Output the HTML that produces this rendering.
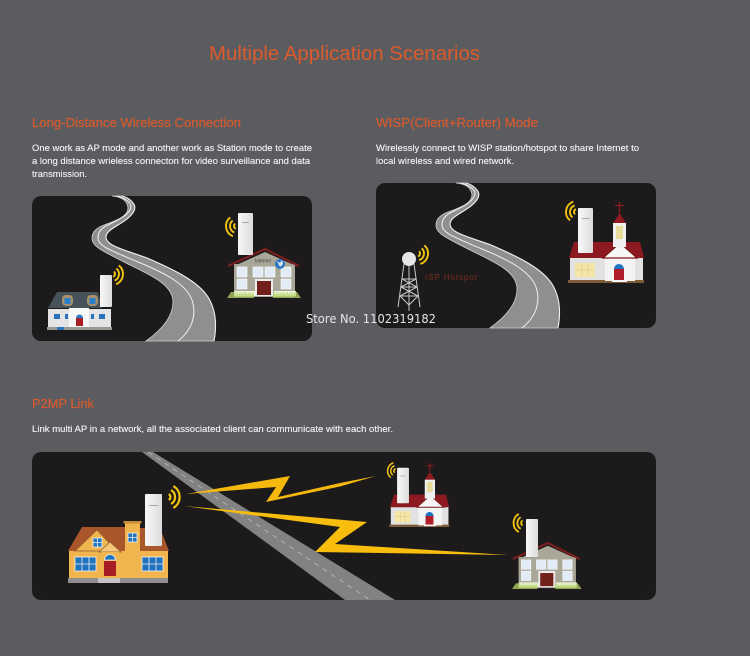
<!DOCTYPE html>
<html><head><meta charset="utf-8"><style>
html,body{margin:0;padding:0;background:#5b5c60;width:750px;height:656px;overflow:hidden}
svg{display:block}
text{font-family:"Liberation Sans",sans-serif}
.h{font-size:13px;fill:#d85a2e;stroke:#d85a2e;stroke-width:.2}
.b{font-size:9.6px;fill:#f4f4f4;stroke:#f4f4f4;stroke-width:.12}
</style></head><body>
<svg width="750" height="656" viewBox="0 0 750 656" xmlns="http://www.w3.org/2000/svg">
<defs>
<linearGradient id="ap" x1="0" x2="1" y1="0" y2="0"><stop offset="0" stop-color="#f8f8f8"/><stop offset="1" stop-color="#dcdcdc"/></linearGradient>
<g id="arcs" fill="none" stroke="#f2c40e" stroke-width="1.9">
<path d="M1.5,-2.6A3,3 0 0 1 1.5,2.6"/><path d="M3.5,-6.06A7,7 0 0 1 3.5,6.06"/><path d="M5.5,-9.53A11,11 0 0 1 5.5,9.53"/>
</g>
<g id="road">
<path d="M112,196C120,197 127,199 128,208C128,216 118,220 104,225C96,228 92,232 92,238C92,246 100,250 130,265C155,277 173,286 173,302C173,318 160,331 146,341L214,341C217,325 216,310 208,297C197,280 170,268 147,258C125,250 106,246 106,237C106,230 118,226 127,219C134,213 137,208 133,203C130,199 126,197 122,196Z" fill="#8f8f8f" stroke="#cfcfcf" stroke-width=".8"/>
<path d="M122,196C126,197 130,199 133,203C137,208 134,213 127,219C118,226 106,230 106,237C106,246 125,250 147,258C170,268 197,280 208,297C216,310 217,325 214,341" fill="none" stroke="#eee" stroke-width="1.1"/>
<path d="M117,196C124,198 130,201 131,206C131,214 120,219 108,225C101,228 98,232 98,238C98,246 110,250 138,262C165,273 186,284 192,300C197,315 192,330 178,341" fill="none" stroke="#f0f0f0" stroke-width="1"/>
</g>
<g id="church">
<path d="M574,242H640L644,258H569Z" fill="#8c1a20"/>
<rect x="570" y="258" width="73" height="23" fill="#e2e2e2"/>
<rect x="568" y="280" width="76" height="3" fill="#7d5a38"/>
<rect x="605" y="257" width="30" height="24" fill="#f4f4f4"/>
<path d="M620,243L603,258H637Z" fill="#f6f6f6" stroke="#7e1418" stroke-width="1.2"/>
<rect x="575" y="263" width="20" height="14" fill="#f4e6a6"/>
<path d="M582,263V277M588,263V277M575,270H595" stroke="#d8c888" stroke-width=".6"/>
<rect x="613" y="223" width="13" height="24" fill="#f0f0f0"/>
<path d="M619.5,213L613,223H626Z" fill="#8c1a20"/>
<rect x="616" y="226" width="7" height="13" fill="#e8dc9a"/>
<path d="M619.5,202V213M615,205.500H624" stroke="#8c1a20" stroke-width="1.3"/>
<path d="M614,269A5,5 0 0 1 624,269Z" fill="#1f75c2"/>
<rect x="614" y="269" width="10" height="11" fill="#b01c2a"/>
<rect x="612" y="280" width="15" height="2" fill="#f4f4f4"/>
<rect x="578" y="208" width="15" height="45" rx="1" fill="url(#ap)"/>
<rect x="582" y="218" width="7" height=".8" fill="#999"/>
<use href="#arcs" transform="translate(577,212) rotate(10) scale(-1,1)"/>
</g>
<g id="gray">
<rect x="234" y="264" width="61" height="33" fill="#a9a797"/>
<path d="M265,252L234,266H296Z" fill="#a9a797"/>
<path d="M228,266L265,249L299,266" fill="none" stroke="#7b1f1f" stroke-width="2.2"/>
<g fill="#e2ecf6" stroke="#f7f7f7" stroke-width=".7">
<rect x="237" y="267" width="10" height="10"/><rect x="253" y="267" width="10" height="10"/><rect x="265" y="267" width="10" height="10"/><rect x="281" y="267" width="10" height="10"/><rect x="237" y="279" width="10" height="10"/><rect x="281" y="279" width="10" height="10"/>
</g>
<rect x="255" y="279" width="18" height="17" fill="#eee"/>
<rect x="257" y="281" width="14" height="14" fill="#71201c"/>
<rect x="234" y="291" width="21" height="5" fill="#f4f4e4"/><rect x="274" y="291" width="22" height="5" fill="#f4f4e4"/>
<path d="M227,298L231,292H254V298ZM301,298L297,292H273V298Z" fill="#b5d66a" opacity=".75"/>
<path d="M236,293H254M275,293H295" stroke="#fff" stroke-width="1.5" stroke-dasharray="1 1.2"/>
</g>
</defs>

<rect width="750" height="656" fill="#5b5c60"/>

<text x="209" y="60" font-size="20.5" fill="#dc5a2c" textLength="271" lengthAdjust="spacingAndGlyphs">Multiple Application Scenarios</text>

<text class="h" x="32" y="127" textLength="209" lengthAdjust="spacingAndGlyphs">Long-Distance Wireless Connection</text>
<text class="b" x="32" y="151" textLength="280" lengthAdjust="spacingAndGlyphs">One work as AP mode and another work as Station mode to create</text>
<text class="b" x="32" y="164" textLength="278" lengthAdjust="spacingAndGlyphs">a long distance wrieless connecton for video surveillance and data</text>
<text class="b" x="32" y="177" textLength="55" lengthAdjust="spacingAndGlyphs">transmission.</text>

<text class="h" x="376" y="127" textLength="162" lengthAdjust="spacingAndGlyphs">WISP(Client+Router) Mode</text>
<text class="b" x="376" y="151" textLength="263" lengthAdjust="spacingAndGlyphs">Wirelessly connect to WISP station/hotspot to share Internet to</text>
<text class="b" x="376" y="164" textLength="138" lengthAdjust="spacingAndGlyphs">local wireless and wired network.</text>

<text class="h" x="32" y="408" textLength="62" lengthAdjust="spacingAndGlyphs">P2MP Link</text>
<text class="b" x="32" y="432" textLength="361" lengthAdjust="spacingAndGlyphs">Link multi AP in a network, all the associated client can communicate with each other.</text>

<!-- Panel 1 -->
<rect x="32" y="196" width="280" height="145" rx="9" fill="#1c1a1b"/>
<use href="#road"/>
<!-- blue house -->
<path d="M48,308L57,292H98L102,308Z" fill="#46525a"/>
<rect x="62" y="295" width="11" height="11" rx="4" fill="#a88f6c"/><rect x="87" y="295" width="11" height="11" rx="4" fill="#a88f6c"/>
<rect x="64.500" y="298" width="6" height="6" fill="#2a7ec8"/><rect x="89.500" y="298" width="6" height="6" fill="#2a7ec8"/>
<rect x="48" y="309" width="63" height="18" fill="#e4e4e4"/>
<rect x="47" y="327" width="65" height="3" fill="#9a9a92"/>
<rect x="69" y="308" width="20" height="19" fill="#f7f7f7"/>
<rect x="76" y="318" width="7" height="8" fill="#a81c26"/><path d="M76,318A3.500,3.500 0 0 1 83,318Z" fill="#2a7ec8"/>
<g fill="#2a74bf"><rect x="54" y="314" width="6" height="5"/><rect x="65" y="314" width="3" height="5"/><rect x="91" y="314" width="3" height="5"/><rect x="99" y="314" width="6" height="5"/><rect x="57" y="327" width="7" height="3"/></g>
<rect x="100" y="275" width="12" height="32" rx="1" fill="url(#ap)"/>
<use href="#arcs" transform="translate(112,274) rotate(8)"/>
<!-- gray house with internet -->
<use href="#gray"/>
<text x="255" y="262.500" font-size="5" fill="#444" textLength="16">Internet</text>
<circle cx="280" cy="264" r="5" fill="#2d78c4"/><path d="M277,261l3,2 2,-3 1,4 -3,3z" fill="#dfe9ef"/>
<rect x="238" y="213" width="15" height="42" rx="1" fill="url(#ap)"/>
<rect x="242" y="222" width="7" height=".8" fill="#999"/>
<use href="#arcs" transform="translate(237,226) rotate(-8) scale(-1,1)"/>

<!-- Panel 2 -->
<rect x="376" y="183" width="280" height="145" rx="9" fill="#1c1a1b"/>
<use href="#road" transform="translate(344,-13)"/>
<use href="#church"/>
<!-- tower -->
<g fill="none" stroke="#c8c8c8" stroke-width="1">
<path d="M404,264L398,307M414,264L420,307M409,266V311"/>
<path d="M402,279L416,279M401,287L417,287M400,296L418,296M402,279L417,287M416,279L401,287M401,287L418,296M417,287L400,296M400,296L409,305L418,296"/>
</g>
<circle cx="409" cy="259" r="7" fill="#e6e6e6"/>
<use href="#arcs" transform="translate(417,253.500) rotate(12)"/>
<text x="425" y="280" font-size="8" fill="#7f2f20" textLength="52">ISP Hotspot</text>

<!-- Panel 3 -->
<rect x="32" y="452" width="624" height="148" rx="9" fill="#1c1a1b"/>
<path d="M142,452H153L395,600H345Z" fill="#828282"/>
<path d="M148,452L370,600" stroke="#bcbcbc" stroke-width=".8" stroke-dasharray="5 5" fill="none"/>
<path d="M186,494L290,476L278,497L340,483L376,476L340,486.500L266,502L276,487Z" fill="#f5b90d"/>
<path d="M184,506L367,522L335,544L508,555L315,552L340,527Z" fill="#f8bd0d"/>
<!-- yellow house -->
<path d="M68,551L82,527H125V551Z" fill="#a9562b"/>
<path d="M140,528H160L169,551H140Z" fill="#a9562b"/>
<rect x="69" y="551" width="99" height="28" fill="#f1b550"/>
<path d="M75,551L97,530L117,551Z" fill="#f1b550" stroke="#8f5b2a" stroke-width=".7"/>
<rect x="125" y="521" width="15" height="58" fill="#f1b550"/>
<rect x="123.500" y="521" width="18" height="2.500" fill="#c58c38"/>
<rect x="68" y="578" width="100" height="5" fill="#8f8f8f"/>
<rect x="98" y="578" width="22" height="5" fill="#c4c4c4"/>
<path d="M99,552L110,542L121,552Z" fill="#f3c67a" stroke="#8f5b2a" stroke-width=".7"/>
<rect x="102" y="552" width="17" height="26" fill="#f1b550"/>
<g fill="#1f74bd" stroke="#f0f0f0" stroke-width=".8">
<rect x="93" y="538" width="9" height="9"/><rect x="128" y="533" width="9" height="9"/>
<rect x="75" y="557" width="21" height="14"/><rect x="142" y="557" width="21" height="14"/>
<path d="M104.500,560A5.500,5.500 0 0 1 115.500,560Z"/>
</g>
<path d="M82,557V571M89,557V571M75,564H96M149,557V571M156,557V571M142,564H163M97.500,538V547M93,542.500H102M132.500,533V542M128,537.500H137" stroke="#f0f0f0" stroke-width=".8"/>
<rect x="104" y="561" width="12" height="15" fill="#a81c26"/>
<rect x="145" y="494" width="17" height="52" rx="1" fill="url(#ap)"/>
<rect x="149" y="505" width="9" height=".8" fill="#999"/>
<use href="#arcs" transform="translate(167,497) scale(1.15)"/>
<!-- small church -->
<use href="#church" transform="translate(390,527) scale(.79) translate(-569,-283)"/>
<!-- gray house small -->
<use href="#gray" transform="translate(512,589) scale(.94) translate(-227,-298)"/>
<rect x="526" y="519" width="12" height="38" rx="1" fill="url(#ap)"/>
<use href="#arcs" transform="translate(524,523) scale(-.95,.95)"/>

<text x="306" y="323" font-size="12" fill="#e6e6e6" style="font-family:'DejaVu Sans',sans-serif" textLength="130" lengthAdjust="spacingAndGlyphs">Store No. 1102319182</text>
</svg>
</body></html>
